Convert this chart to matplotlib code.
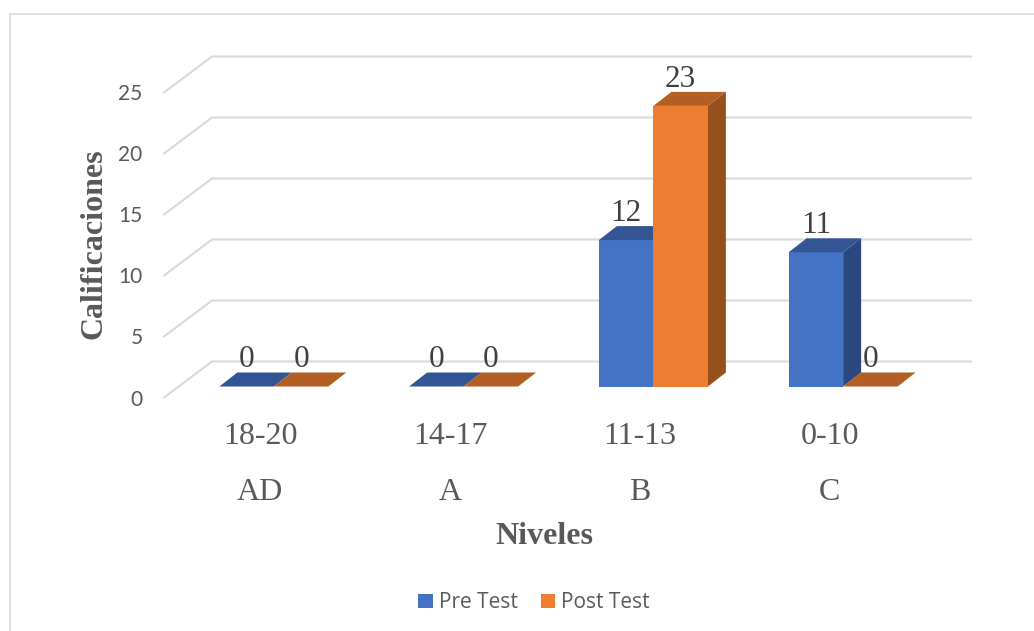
import matplotlib
matplotlib.use('Agg')
import matplotlib.pyplot as plt
from matplotlib.lines import Line2D
from matplotlib.patches import Patch, Polygon

rangos = ['18-20', '14-17', '11-13', '0-10']
niveles = ['AD', 'A', 'B', 'C']
pre_test = [0, 0, 12, 11]
post_test = [0, 0, 23, 0]
ticks_y = [0, 5, 10, 15, 20, 25]

W, H = 1034, 631
SERIF = 'Liberation Serif'
SANS = 'Open Sans'
GRIS = '#d9d9d9'

# size of one unit in pixels, used to turn the fake 3d depth into data units
px_x = 189.75
px_y = 12.2
wall_dx, wall_dy = 48 / px_x, 36 / px_y
bar_dx, bar_dy = 18 / px_x, 14 / px_y
off_x, off_y = 15 / px_x, 11 / px_y
ancho = 54.5 / px_x

fig = plt.figure(figsize=(W / 100, H / 100), dpi=100)
ax = fig.add_axes([164 / W, 1 - 397.5 / H, 759 / W, 305 / H])
ax.set_xlim(-0.5, 3.5)
ax.set_ylim(0, 25)
for s in ax.spines.values():
	s.set_visible(False)
ax.patch.set_visible(False)

# outer frame, only top and left can be seen
fig.add_artist(Line2D([9.5 / W, 9.5 / W, 1], [0, 1 - 13.5 / H, 1 - 13.5 / H], color='#dedede', lw=1.3))

# grid: slanted part on the wall + the line on the back plane
for t in ticks_y:
	ax.plot([-0.5, -0.5 + wall_dx, 3.5 + wall_dx], [t, t + wall_dy, t + wall_dy],
		color=GRIS, lw=1.5, clip_on=False, zorder=1, solid_joinstyle='miter')


def barra(x0, v, front, top, side, z):
	x1 = x0 + ancho
	y0 = off_y
	y1 = v + off_y
	if v > 0:
		ax.add_patch(Polygon([(x1, y0), (x1 + bar_dx, y0 + bar_dy), (x1 + bar_dx, y1 + bar_dy), (x1, y1)],
			fc=side, ec='none', clip_on=False, zorder=z))
		ax.add_patch(Polygon([(x0, y0), (x1, y0), (x1, y1), (x0, y1)],
			fc=front, ec='none', clip_on=False, zorder=z + 0.1))
	ax.add_patch(Polygon([(x0, y1), (x1, y1), (x1 + bar_dx, y1 + bar_dy), (x0 + bar_dx, y1 + bar_dy)],
		fc=top, ec='none', clip_on=False, zorder=z + 0.2))
	ax.annotate(str(v), (x0 + ancho / 2, y1 + bar_dy), xytext=(0, 3.6), textcoords='offset points',
		ha='center', va='baseline', family=SERIF, fontsize=22.5, color='#404040', zorder=10, annotation_clip=False)


for i in range(len(rangos)):
	xc = i + off_x
	barra(xc - ancho, pre_test[i], '#4472c4', '#335593', '#2a4780', 3 + i)
	barra(xc, post_test[i], '#ed7d31', '#b35e22', '#97501b', 3.5 + i)

ax.set_xticks([i + 0.008 for i in range(len(rangos))], rangos, family=SERIF, fontsize=23, color='#595959')
ax.set_yticks(ticks_y, [str(t) for t in ticks_y], family='Lato', fontsize=15, color='#595959')
ax.tick_params(axis='x', length=0, pad=17.5)
ax.tick_params(axis='y', length=0, pad=15.5)

for i, n in enumerate(niveles):
	ax.annotate(n, (i, 0), xycoords=ax.get_xaxis_transform(), xytext=(1, -74), textcoords='offset points',
		ha='center', va='baseline', family=SERIF, fontsize=23, color='#595959')

fig.text(544.5 / W, 1 - 544 / H, 'Niveles', ha='center', va='baseline', family=SERIF,
	fontsize=23, fontweight='bold', color='#595959')
fig.text(94 / W, 1 - 244 / H, 'Calificaciones', ha='center', va='center', rotation=90, family=SERIF,
	fontsize=23, fontweight='bold', color='#595959')

handles = [Patch(fc='#4472c4', label='Pre Test'), Patch(fc='#ed7d31', label='Post Test')]
fig.legend(handles=handles, loc='center', bbox_to_anchor=(534 / W, 1 - 603 / H), ncol=2, frameon=False,
	prop={'family': SANS, 'size': 15}, labelcolor='#595959', handlelength=0.68, handleheight=0.68,
	handletextpad=0.3, columnspacing=1.1, borderpad=0, borderaxespad=0)

fig.savefig('out.png', dpi=100)
